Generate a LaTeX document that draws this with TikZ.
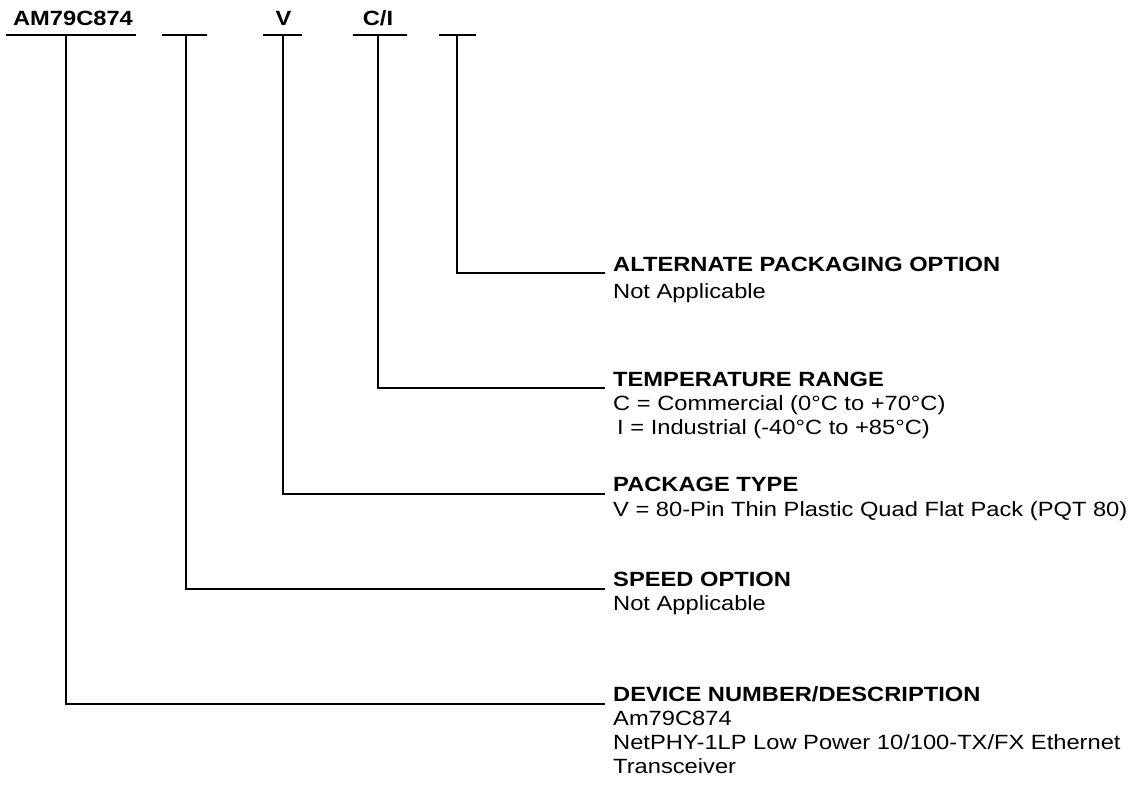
\documentclass[tikz,border=0pt]{standalone}
\usepackage{fontspec}
\setmainfont{Liberation Sans}[FakeStretch=1.15]
\begin{document}
\begin{tikzpicture}[x=1pt,y=-1pt,
  lbl/.style={inner sep=0pt,anchor=base west,font=\fontsize{20.6}{24.3}\selectfont},
  head/.style={lbl,font=\fontsize{20.6}{24.3}\selectfont\bfseries},
  code/.style={inner sep=0pt,anchor=base,font=\fontsize{20.6}{24}\selectfont\bfseries},
  wire/.style={line width=2.9pt,line cap=butt,line join=miter}]
\useasboundingbox[fill=white] (0,0) rectangle (1133,785);
% top code fields
\node[code] (f1) at (73,25) {AM79C874};
\node[code] (f3) at (283.5,25) {V};
\node[code] (f4) at (378,25) {C/I};
\draw[wire] (6,35) -- (136,35);
\draw[wire] (162,35) -- (207,35);
\draw[wire] (263,35) -- (302,35);
\draw[wire] (353,35) -- (407,35);
\draw[wire] (439,35) -- (476,35);
\coordinate (t1) at (66,35);
\coordinate (t2) at (186,35);
\coordinate (t3) at (283,35);
\coordinate (t4) at (378,35);
\coordinate (t5) at (457,35);
% ends of connectors
\coordinate (e5) at (605,273);
\coordinate (e4) at (605,388);
\coordinate (e3) at (605,494);
\coordinate (e2) at (605,589);
\coordinate (e1) at (605,704);
% headings and descriptions
\node[head] (h5) at (613,271) {ALTERNATE PACKAGING OPTION};
\node[lbl]  (d5) at (613,298) {Not Applicable};
\node[head] (h4) at (613,386) {TEMPERATURE RANGE};
\node[lbl]  (d4a) at (613,410) {C = Commercial (0°C to +70°C)};
\node[lbl]  (d4b) at (617,434) {I = Industrial (-40°C to +85°C)};
\node[head] (h3) at (613,491) {PACKAGE TYPE};
\node[lbl]  (d3) at (613,516) {V = 80-Pin Thin Plastic Quad Flat Pack (PQT 80)};
\node[head] (h2) at (613,586) {SPEED OPTION};
\node[lbl]  (d2) at (613,610) {Not Applicable};
\node[head] (h1) at (613,701) {DEVICE NUMBER/DESCRIPTION};
\node[lbl]  (d1a) at (613,725) {Am79C874};
\node[lbl]  (d1b) at (613,749) {NetPHY-1LP Low Power 10/100-TX/FX Ethernet};
\node[lbl]  (d1c) at (613,773) {Transceiver};
% connectors
\draw[wire] (t5) |- (e5);
\draw[wire] (t4) |- (e4);
\draw[wire] (t3) |- (e3);
\draw[wire] (t2) |- (e2);
\draw[wire] (t1) |- (e1);
\end{tikzpicture}
\end{document}
